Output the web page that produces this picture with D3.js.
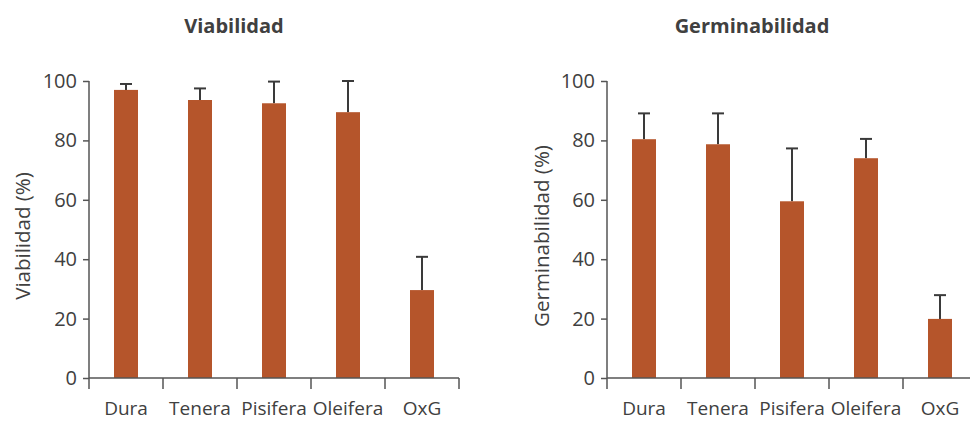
<!DOCTYPE html>
<html><head><meta charset="utf-8">
<script src="https://cdn.jsdelivr.net/npm/d3@7"></script>
<style>body{margin:0;background:#fff}svg text{font-family:"Open Sans","Noto Sans",sans-serif;fill:#404040}</style>
</head><body><svg id="c" width="970" height="424"></svg>
<script>
const categories = ["Dura","Tenera","Pisifera","Oleifera","OxG"];
const viabilidad = [97, 93.6, 92.5, 89.5, 29.6];
const viabilidadErr = [2, 3.9, 7.3, 10.5, 11.2];
const germinabilidad = [80.4, 78.7, 59.5, 74.0, 19.9];
const germinabilidadErr = [8.7, 10.4, 17.8, 6.5, 8.0];
const yTicks = [0,20,40,60,80,100];
const titles = ["Viabilidad","Germinabilidad"];
const yLabels = ["Viabilidad (%)","Germinabilidad (%)"];

const svg = d3.select("#c");
const panels = [
  {x0:89, x1:459, vals:viabilidad, err:viabilidadErr, title:titles[0], ylab:yLabels[0], labX:23, titleX:234},
  {x0:607, x1:977, vals:germinabilidad, err:germinabilidadErr, title:titles[1], ylab:yLabels[1], labX:542, titleX:752}
];
const color = "#b5552b", axisCol = "#555";
panels.forEach(p => {
  const x = d3.scaleBand().domain(categories).range([p.x0, p.x1]);
  const y = d3.scaleLinear().domain([0,100]).range([378, 81]);
  const g = svg.append("g");
  categories.forEach((c,i) => {
    const cx = x(c) + x.bandwidth()/2;
    g.append("line").attr("x1",cx).attr("x2",cx).attr("y1",y(p.vals[i])).attr("y2",y(p.vals[i]+p.err[i]))
      .attr("stroke","#3a3a3a").attr("stroke-width",2);
    g.append("line").attr("x1",cx-6).attr("x2",cx+6).attr("y1",y(p.vals[i]+p.err[i])).attr("y2",y(p.vals[i]+p.err[i]))
      .attr("stroke","#3a3a3a").attr("stroke-width",2);
  });
  g.selectAll("rect").data(p.vals).join("rect")
    .attr("x",(d,i)=>x(categories[i]) + x.bandwidth()/2 - 12)
    .attr("width",24)
    .attr("y",d=>y(d)).attr("height",d=>y(0)-y(d)).attr("fill",color);
  const ya = g.append("g").attr("transform",`translate(${p.x0},0)`)
    .call(d3.axisLeft(y).tickValues(yTicks).tickSize(6).tickPadding(6));
  ya.selectAll("text").style("font-size","20px");
  const xa = g.append("g").attr("transform","translate(0,378)")
    .call(d3.axisBottom(x).tickSize(0).tickPadding(24));
  xa.selectAll("text").style("font-size","19px");
  const bounds = categories.map(c=>x(c)).concat([p.x1]);
  xa.selectAll(".sep").data(bounds).join("line").attr("class","sep")
    .attr("x1",d=>d).attr("x2",d=>d).attr("y1",0).attr("y2",11).attr("stroke",axisCol).attr("stroke-width",1.5);
  [ya,xa].forEach(a=>{a.selectAll("path").attr("stroke",axisCol).attr("stroke-width",1.5);
    a.selectAll(".tick line").attr("stroke",axisCol).attr("stroke-width",1.5);});
  xa.select("path").attr("d",`M${p.x0},0H${p.x1}`);
  ya.select("path").attr("d",`M0,${y(100)}V${y(0)}`);
  g.append("text").attr("x",p.titleX).attr("y",33).attr("text-anchor","middle")
    .style("font-size","20px").style("font-weight","bold").text(p.title);
  g.append("text").attr("transform",`translate(${p.labX},236) rotate(-90)`).attr("text-anchor","middle")
    .attr("dy","0.35em").style("font-size","20.5px").text(p.ylab);
});
</script></body></html>
